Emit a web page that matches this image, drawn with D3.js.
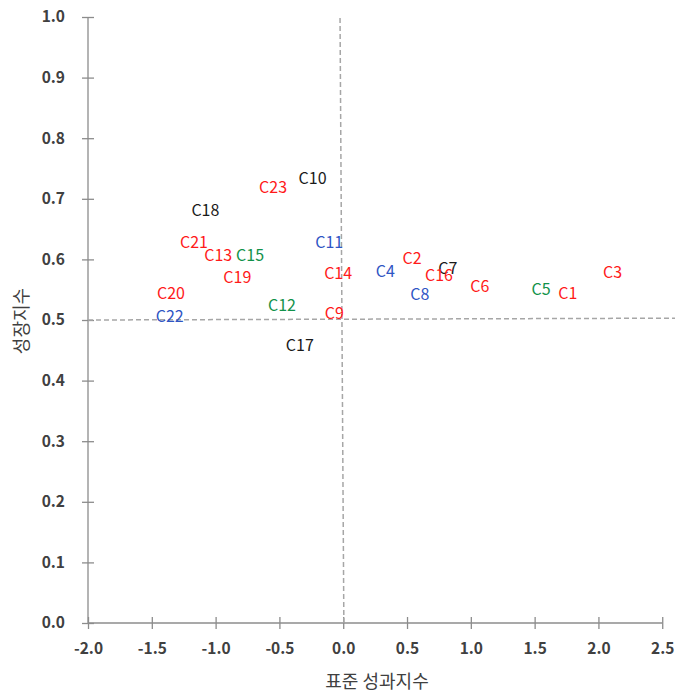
<!DOCTYPE html>
<html>
<head>
<meta charset="utf-8">
<script src="https://cdn.jsdelivr.net/npm/d3@7"></script>
<style>
  body { margin: 0; background: #fff; }
  svg text { font-family: "Noto Sans CJK KR", "Noto Sans", sans-serif; }
</style>
</head>
<body>
<svg id="chart"></svg>
<script>
// data
const names = ["C1","C2","C3","C4","C5","C6","C7","C8","C9","C10","C11","C12",
               "C13","C14","C15","C16","C17","C18","C19","C20","C21","C22","C23"]
const perf = [1.76, 0.54, 2.11, 0.33, 1.55, 1.07, 0.82, 0.60, -0.07, -0.24, -0.11, -0.48,
              -0.98, -0.04, -0.73, 0.75, -0.34, -1.08, -0.83, -1.35, -1.17, -1.36, -0.55]
const growth = [0.546, 0.604, 0.581, 0.583, 0.553, 0.558, 0.587, 0.545, 0.513, 0.736, 0.630, 0.526,
                0.609, 0.579, 0.609, 0.576, 0.461, 0.683, 0.573, 0.546, 0.630, 0.508, 0.721]
const group = ["r","r","r","b","g","r","k","b","r","k","b","g",
               "r","r","g","r","k","k","r","r","r","b","r"]

const xTicks = [-2.0, -1.5, -1.0, -0.5, 0.0, 0.5, 1.0, 1.5, 2.0, 2.5]
const yTicks = [0.0, 0.1, 0.2, 0.3, 0.4, 0.5, 0.6, 0.7, 0.8, 0.9, 1.0]

// quadrant guide lines
const hLine = [[-2, 0.5], [2.6, 0.503]]
const vLine = [[0.005, 0], [-0.025, 1]]

const colors = {r: "#ff1a1a", b: "#2f55c4", g: "#12924a", k: "#1a1a1a"}

const W = 675, H = 692
const svg = d3.select("#chart").attr("width", W).attr("height", H)

const x = d3.scaleLinear().domain([-2, 2.6]).range([88, 675])
const y = d3.scaleLinear().domain([0, 1]).range([623, 17])

const axisCol = "#8c8c8c"

// x axis
const xAxis = svg.append("g")
    .attr("transform", `translate(0,${y(0)})`)
    .call(d3.axisBottom(x).tickValues(xTicks).tickSize(6).tickPadding(14).tickFormat(d3.format(".1f")))
xAxis.select(".domain").remove()
xAxis.append("line")
    .attr("x1", x(-2)).attr("x2", x(2.5))
    .attr("stroke", axisCol).attr("stroke-width", 1.3)
xAxis.selectAll(".tick line").attr("y1", -6).attr("y2", 6)
    .attr("stroke", axisCol).attr("stroke-width", 1.3)
xAxis.selectAll(".tick text")
    .attr("font-size", 15.5).attr("font-weight", "bold").attr("fill", "#404040")
    .text(d => d3.format(".1f")(d).replace("−", "-"))

// y axis
const yAxis = svg.append("g")
    .attr("transform", `translate(${x(-2)},0)`)
    .call(d3.axisLeft(y).tickValues(yTicks).tickSize(6).tickPadding(17).tickFormat(d3.format(".1f")))
yAxis.select(".domain").remove()
yAxis.append("line")
    .attr("y1", y(0)).attr("y2", y(1))
    .attr("stroke", axisCol).attr("stroke-width", 1.3)
yAxis.selectAll(".tick line").attr("x1", -6).attr("x2", 6)
    .attr("stroke", axisCol).attr("stroke-width", 1.3)
yAxis.selectAll(".tick text")
    .attr("font-size", 15.5).attr("font-weight", "bold").attr("fill", "#404040")

// dashed quadrant lines
const line = d3.line().x(d => x(d[0])).y(d => y(d[1]))
svg.selectAll(".guide")
    .data([hLine, vLine])
    .join("path")
    .attr("class", "guide")
    .attr("d", line)
    .attr("fill", "none")
    .attr("stroke", "#a6a6a6")
    .attr("stroke-width", 1.5)
    .attr("stroke-dasharray", "5,3")

// point labels
const pts = names.map((n, i) => ({name: n, px: perf[i], gy: growth[i], g: group[i]}))
svg.selectAll(".lbl")
    .data(pts)
    .join("text")
    .attr("class", "lbl")
    .attr("x", d => x(d.px))
    .attr("y", d => y(d.gy))
    .attr("text-anchor", "middle")
    .attr("dominant-baseline", "central")
    .attr("font-size", 16)
    .attr("fill", d => colors[d.g])
    .text(d => d.name)

// axis titles
svg.append("text")
    .attr("x", 377).attr("y", 680)
    .attr("text-anchor", "middle").attr("dominant-baseline", "central")
    .attr("font-size", 18).attr("fill", "#404040")
    .text("표준 성과지수")

svg.append("text")
    .attr("transform", "translate(20,321) rotate(-90)")
    .attr("text-anchor", "middle").attr("dominant-baseline", "central")
    .attr("font-size", 18).attr("fill", "#404040")
    .text("성장지수")
</script>
</body>
</html>
